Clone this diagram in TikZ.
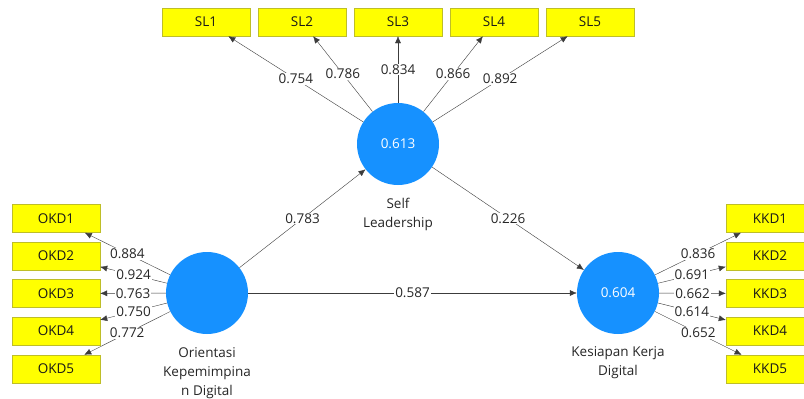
\documentclass[tikz,border=0pt]{standalone}
\usepackage{fontspec}
\setmainfont{Open Sans}
\usetikzlibrary{arrows.meta}

\definecolor{lvblue}{RGB}{22,145,255}
\definecolor{mvyellow}{RGB}{255,255,0}
\definecolor{mvborder}{RGB}{190,190,40}
\definecolor{pathgray}{RGB}{60,60,60}

\begin{document}
\begin{tikzpicture}
  [x=1pt,y=-1pt,font=\fontsize{13.5}{19}\selectfont,
   latent/.style={circle,fill=lvblue,minimum size=82pt,inner sep=0pt,text=white},
   indic/.style={rectangle,draw=mvborder,fill=mvyellow,minimum width=88pt,minimum height=28pt,inner sep=0pt,text=black!90},
   lvname/.style={align=center,text=black!85},
   load/.style={-{Latex[length=7pt,width=6pt]},draw=pathgray},
   coef/.style={fill=white,inner sep=1pt,text=black!85}]
  \fill[white] (0,0) rectangle (804,399);
  \useasboundingbox (0,0) rectangle (804,399);

  % latent variables
  \node[latent] (SL)  at (398,144) {0.613};
  \node[latent] (OKD) at (207,293) {};
  \node[latent] (KKD) at (618,293) {0.604};

  \node[lvname] (SLn)  at (398,214) {Self\\Leadership};
  \node[lvname] (OKDn) at (207,373) {Orientasi\\Kepemimpina\\n Digital};
  \node[lvname] (KKDn) at (618,363) {Kesiapan Kerja\\Digital};

  % indicators
  \node[indic] (sl1) at (206,22) {SL1};
  \node[indic] (sl2) at (302,22) {SL2};
  \node[indic] (sl3) at (398,22) {SL3};
  \node[indic] (sl4) at (494,22) {SL4};
  \node[indic] (sl5) at (590,22) {SL5};

  \node[indic] (okd1) at (56,218.5) {OKD1};
  \node[indic] (okd2) at (56,256)   {OKD2};
  \node[indic] (okd3) at (56,293.5) {OKD3};
  \node[indic] (okd4) at (56,331)   {OKD4};
  \node[indic] (okd5) at (56,369)   {OKD5};

  \node[indic] (kkd1) at (770,218.5) {KKD1};
  \node[indic] (kkd2) at (770,256)   {KKD2};
  \node[indic] (kkd3) at (770,293.5) {KKD3};
  \node[indic] (kkd4) at (770,331)   {KKD4};
  \node[indic] (kkd5) at (770,369)   {KKD5};

  % outer loadings
  \foreach \to/\w in {sl1/0.754,sl2/0.786,sl3/0.834,sl4/0.866,sl5/0.892}
    \draw[load] (SL) -- node[coef] {\w} (\to);
  \foreach \to/\w in {okd1/0.884,okd2/0.924,okd3/0.763,okd4/0.750,okd5/0.772}
    \draw[load] (OKD) -- node[coef] {\w} (\to);
  \foreach \to/\w in {kkd1/0.836,kkd2/0.691,kkd3/0.662,kkd4/0.614,kkd5/0.652}
    \draw[load] (KKD) -- node[coef] {\w} (\to);

  % path coefficients
  \foreach \from/\to/\w in {OKD/SL/0.783,SL/KKD/0.226,OKD/KKD/0.587}
    \draw[load] (\from) -- node[coef] {\w} (\to);
\end{tikzpicture}
\end{document}
